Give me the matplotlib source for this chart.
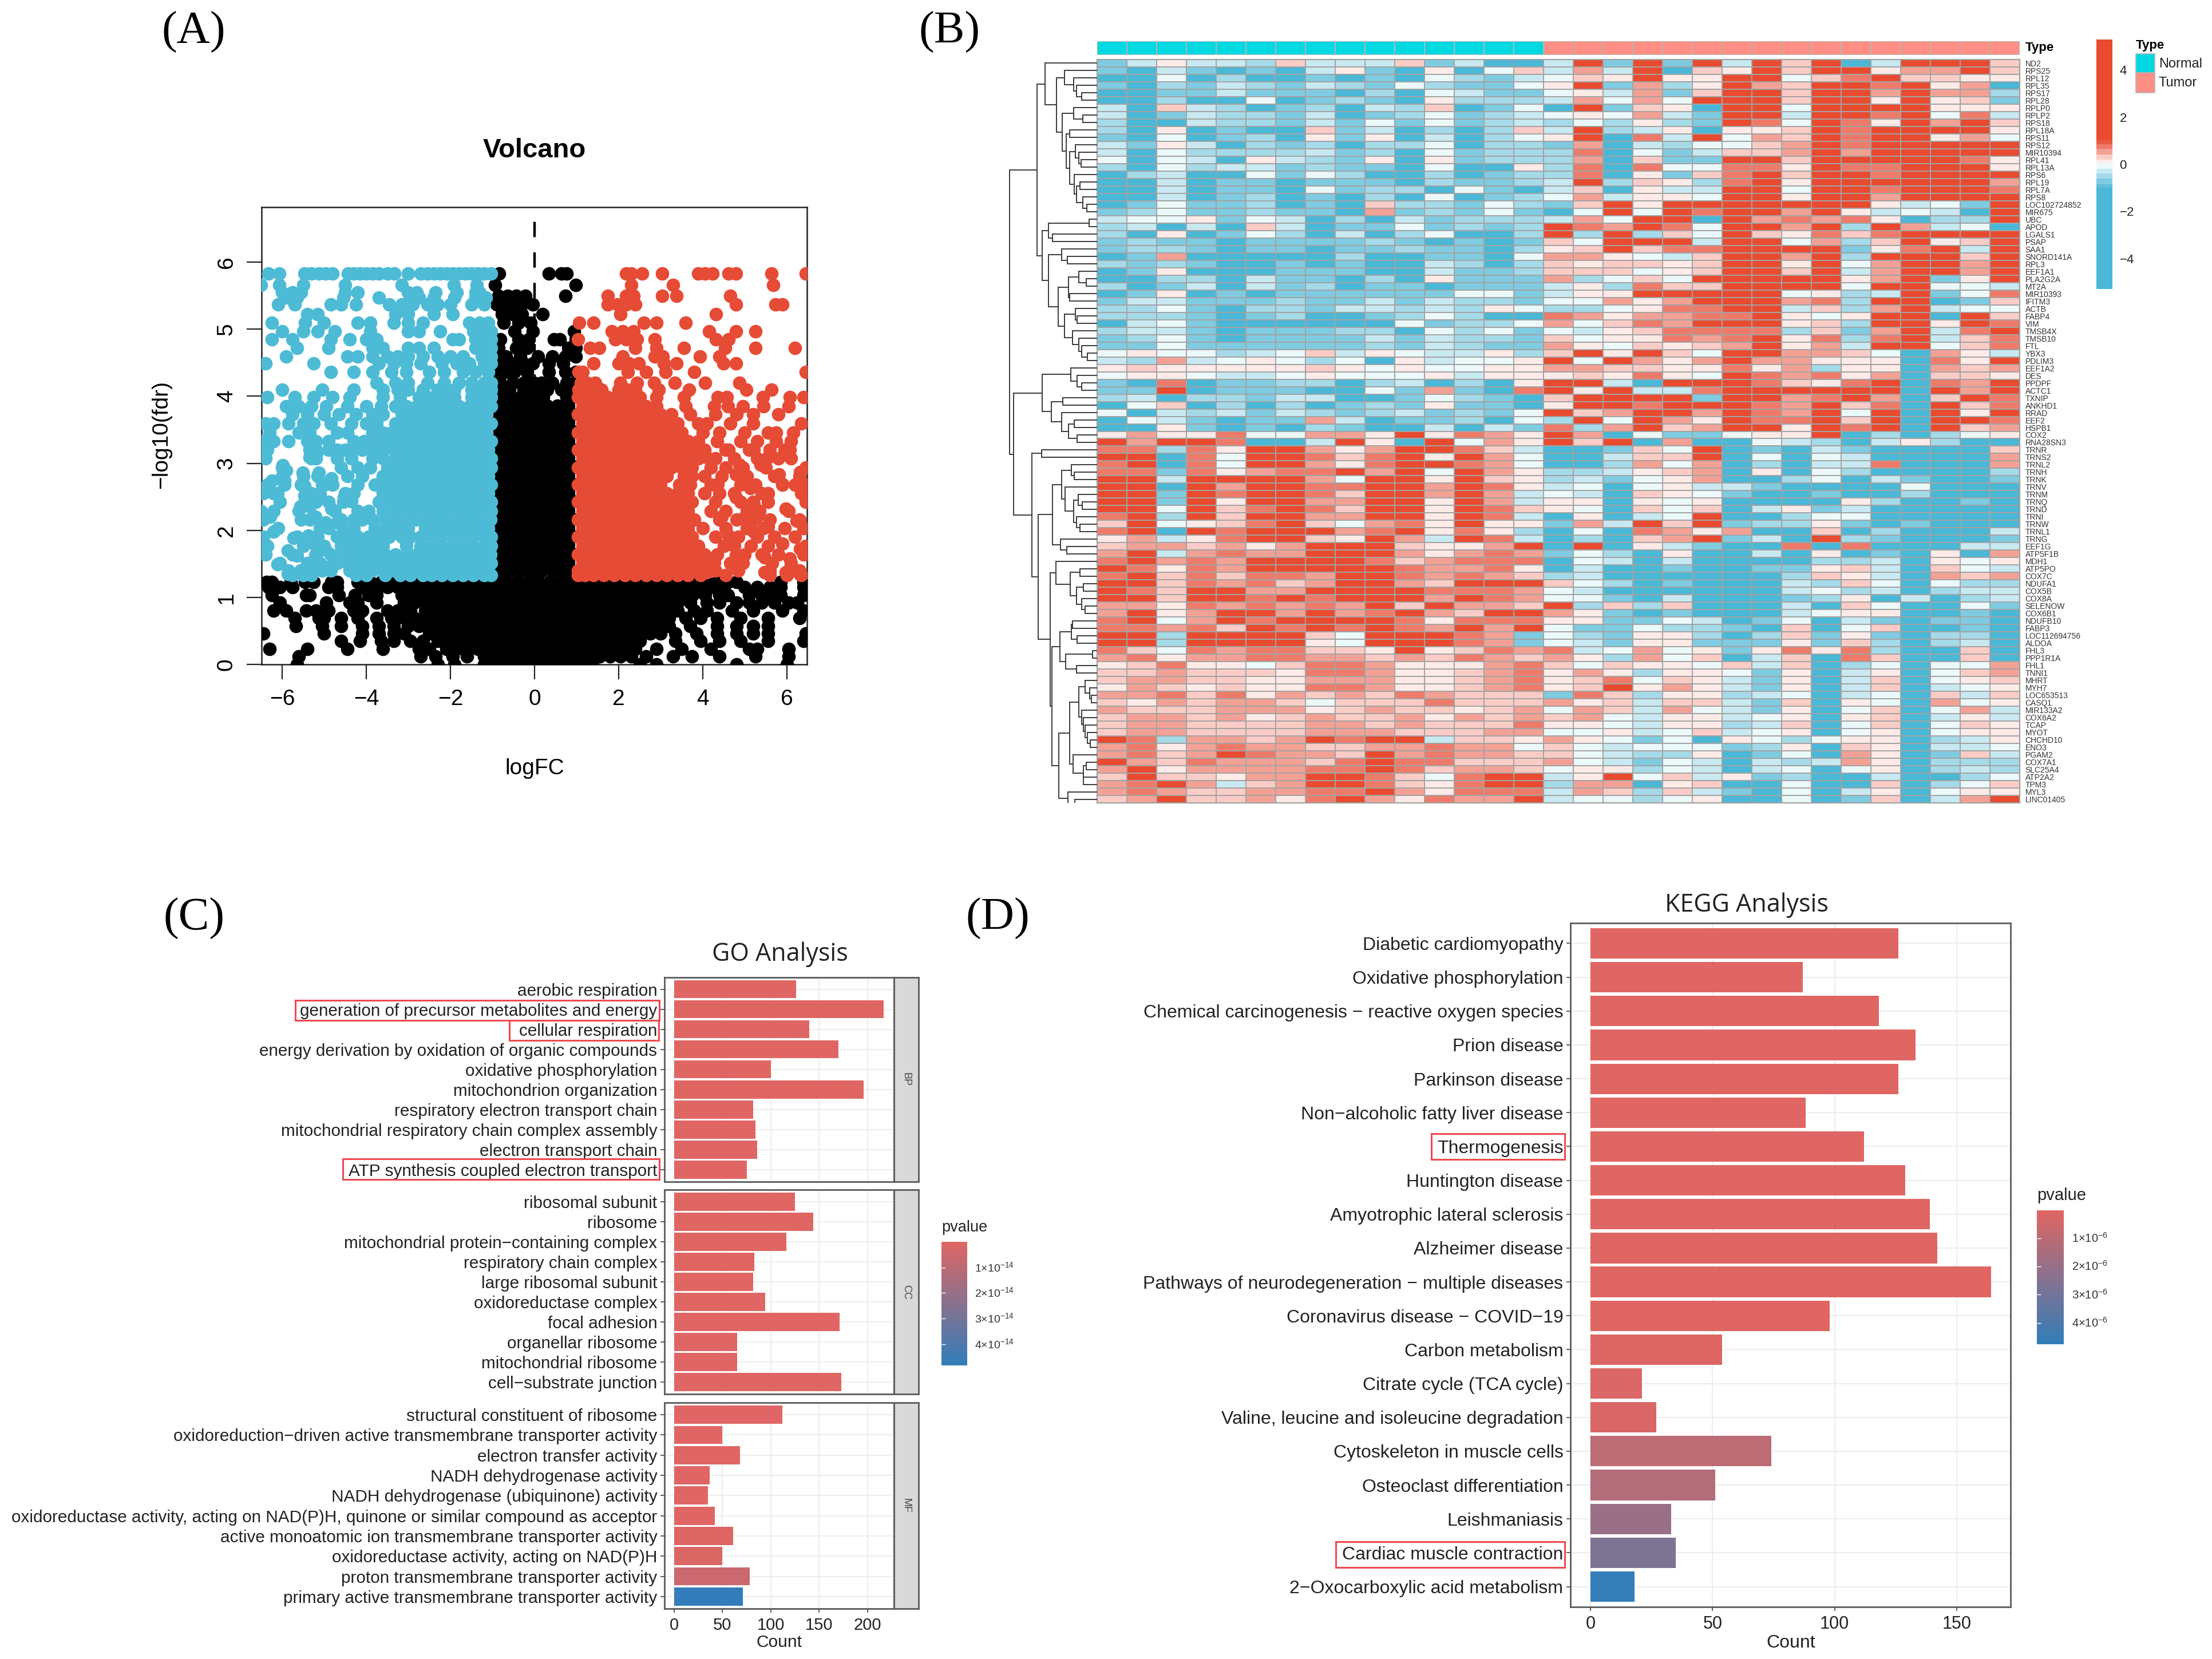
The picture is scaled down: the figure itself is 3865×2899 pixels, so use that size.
import matplotlib
matplotlib.use("Agg")
import matplotlib.pyplot as plt
from matplotlib.colors import ListedColormap, BoundaryNorm, LinearSegmentedColormap
from matplotlib.patches import Rectangle
import numpy as np

plt.rcParams['font.family'] = ['Liberation Sans', 'DejaVu Sans']
plt.rcParams['mathtext.default'] = 'regular'
W, H = 3866, 2899
fig = plt.figure(figsize=(W / 100, H / 100), dpi=100, facecolor='white')

def axpx(x0, y0, x1, y1, **kw):
    return fig.add_axes([x0 / W, 1 - y1 / H, (x1 - x0) / W, (y1 - y0) / H], **kw)

def txt(x, y, s, **kw):
    kw.setdefault('ha', 'center'); kw.setdefault('va', 'center')
    return fig.text(x / W, 1 - y / H, s, **kw)

# ---------- Panel A data: rows of points (y level, x positions)
blue_y = [5.83, 5.66, 5.55, 5.47, 5.37, 5.22, 5.1, 4.97, 4.85, 4.72, 4.59, 4.49, 4.36, 4.2, 4.1,
          3.99, 3.85, 3.73, 3.59, 3.46, 3.33, 3.2, 3.07, 2.94, 2.81, 2.68, 2.55, 2.42, 2.29, 2.16,
          2.03, 1.9, 1.77, 1.64, 1.51, 1.4, 1.33]
blue_x = [
 [-6.32,-6.07,-5.47,-5.3,-5.13,-4.96,-4.8,-4.44,-4.3,-4.15,-4,-3.85,-3.7,-3.5,-3.33,-3,-2.7,-2.55,-2.4,-2.25,-2.1,-1.95,-1.8,-1.65,-1.5,-1.35,-1.2,-1.03],
 [-6.5,-6.07,-5.5,-4.5,-3.16,-1.92,-1.37],
 [-6,-5.75,-5.55,-4.5,-4.2,-3,-2.8,-2.35,-1.85,-1.4,-1.3],
 [-5.9,-5.65,-4.55,-3.7,-2.95,-2.75,-2.4,-1.9,-1.4,-1.15],
 [-6.1,-5.7,-4.85,-4.6,-4.25,-3.45,-3.15,-2.9,-2.55,-2.3,-2,-1.5,-1.2],
 [-5.4,-5.15,-3.3,-2.4,-1.95,-3.0],
 [-6.25,-5.45,-5,-4.2,-3.9,-3.35,-3,-2.65,-1.55,-1.3,-1.1],
 [-6,-5.5,-5.15,-4.75,-3.9,-3,-2.75,-2.25,-1.45,-1.2,-1.03],
 [-6.25,-5.75,-4.85,-4.4,-4,-3.75,-1.95,-1.8,-1.4,-1.2,-1.03],
 [-5.65,-4.9,-3.85,-3.6,-3,-2.75,-2.4,-1.4,-1.2,-1.03],
 [-5.9,-4.45,-4.2,-3.85,-3.5,-3.25,-3,-2.65,-2.3,-2,-1.7,-1.25,-1.03],
 [-6.4,-5.25,-3.7,-3.35,-3.05,-2.7,-2.2,-1.85,-1.55,-1.2,-1.03],
 [-4.85,-4.3,-3.85,-3.4,-3.05,-2.15,-1.7,-1.4,-1.1,-2.5],
 [-3.75,-3.3,-3,-2.15,-1.8,-1.5,-1.2,-1.03,-2.55],
 [-6,-5.05,-4.3,-3.6,-3.25,-3,-2.65,-2.3,-1.9,-1.5,-1.03,-1.25,-2.1],
 [-6.35,-5.7,-5.25,-4.8,-4.4,-3.6,-3.2,-2.75,-2.35,-1.9,-1.5,-1.03,-1.25,-2.1,-2.55],
 [-5.9,-5.6,-5.3,-4.95,-4.45,-4,-3.65,-3.3,-3.05,-2.8,-2.55,-2.3,-2.05,-1.8,-1.55,-1.3,-1.03],
 [-5.75,-5.4,-5,-4.65,-4.25,-3.85,-3.6,-3.15,-2.9,-2.65,-2.4,-2.15,-1.9,-1.65,-1.4,-1.15],
 [-6.4,-6.2,-5.85,-5.5,-5.25,-4.85,-4.35,-4,-3.75,-3.3,-3.05,-2.8,-2.55,-2.3,-2.05,-1.8,-1.55,-1.3,-1.03],
 [-6.3,-5.6,-5.35,-4.7,-4.45,-3.85,-3.6,-3.4,-3.15,-2.9,-2.65,-2.4,-2.15,-1.9,-1.65,-1.4,-1.15],
 [-6.45,-6.2,-5.85,-5.4,-5.2,-4.9,-4.3,-4.05,-3.75,-3.5,-3.25,-3,-2.75,-2.5,-2.25,-2,-1.75,-1.5,-1.25,-1.03],
 [-6.35,-5.35,-5.2,-4.9,-4.7,-4.5,-4.3,-4.1,-3.85,-3.6,-3.35,-3.1,-2.85,-2.6,-2.35,-2.1,-1.85,-1.6,-1.35,-1.1],
 [-6.4,-5.3,-5.2,-4.7,-4.35,-3.85,-3.6,-3.3,-3.05,-2.8,-2.55,-2.3,-2.05,-1.8,-1.55,-1.3,-1.03],
 [-6,-4.6,-4.2,-3.9,-3.5,-3.25,-3,-2.75,-2.5,-2.25,-2,-1.75,-1.5,-1.25,-1.03],
 [-6,-5.5,-5.15,-4.45,-4.1,-3.6,-3.35,-3.1,-2.85,-2.6,-2.35,-2.1,-1.85,-1.6,-1.35,-1.1],
 [-6.35,-5.95,-5.55,-5.05,-4.8,-4.2,-3.8,-3.5,-3.25,-3,-2.75,-2.5,-2.25,-2,-1.75,-1.5,-1.25,-1.03],
 [-6.45,-6.2,-5.3,-5.1,-4.5,-4.3,-3.6,-3.35,-3.1,-2.85,-2.6,-2.35,-2.1,-1.85,-1.6,-1.35,-1.1],
 [-6.05,-5.45,-5.2,-4.9,-4.55,-3.7,-3.45,-3.2,-2.95,-2.7,-2.45,-2.2,-1.95,-1.7,-1.45,-1.2,-1.03],
 [-6.5,-6.2,-5.6,-4.75,-4.2,-3.95,-3.6,-3.3,-3.05,-2.8,-2.55,-2.3,-2.05,-1.8,-1.55,-1.3,-1.03],
 [-6.45,-5.55,-5.35,-4.6,-4.3,-4.1,-3.85,-3.55,-3.3,-3.05,-2.8,-2.55,-2.3,-2.05,-1.8,-1.55,-1.3,-1.05],
 [-6.1,-5.1,-4.9,-4.55,-4.3,-3.8,-3.5,-3.25,-3,-2.6,-2.35,-2.1,-1.85,-1.6,-1.35,-1.1],
 [-6.45,-5.65,-5.4,-5.15,-4.7,-4.5,-4.2,-3.95,-3.7,-3.45,-3.15,-2.95,-2.7,-2.45,-2.2,-1.95,-1.7,-1.45,-1.2,-1.03],
 [-6.35,-5.5,-5.2,-5,-4.6,-4.35,-4.1,-3.85,-3.6,-3.05,-2.7,-2.45,-2.2,-1.95,-1.7,-1.45,-1.2,-1.03],
 [-6.4,-5.75,-5.2,-4.85,-4.55,-4.3,-4.05,-3.8,-3.55,-3.3,-3.05,-2.8,-2.55,-2.3,-2.05,-1.8,-1.55,-1.3,-1.05],
 [-6.05,-5.4,-5.1,-4.7,-4.45,-4.2,-3.95,-3.7,-3.45,-3.2,-2.95,-2.7,-2.45,-2.2,-1.95,-1.7,-1.45,-1.2,-1.03],
 [-5.85,-5.55,-5.05,-4.85,-4.4,-4.1,-3.85,-3.6,-3.35,-3.1,-2.85,-2.6,-2.35,-2.1,-1.85,-1.6,-1.35,-1.1],
 [-5.75,-5.5,-5.3,-4.25,-4,-3.55,-3.2,-2.95,-2.65,-2.45,-2.2,-1.95,-1.7,-1.45,-1.2,-1.03],
]
blue_extra_x = [-6.37,-5.35,-5.35,-5.17,-5.98,-5.9,-5.51,-5.13,-4.83,-4.96,-6.24,-5.94,-5.47,-6.11,-5.47,-4.53,-4.36,-5.21,-5.56,-5.34,-4.83,-6.28,-5.21,-4.96,-4.7,-6.2,-5.73,-5.38,-5.86,-5.64,-5.21,-4.96,-6.11,-5.56,-5.17,-5.86,-4.87]
blue_extra_y = [3.2,3.23,3.09,3.17,2.97,2.89,2.86,2.86,2.77,2.69,2.74,2.74,2.66,2.55,2.52,2.49,2.43,2.49,2.36,2.36,2.32,2.2,2.2,2.12,2.12,1.98,1.89,1.92,1.7,1.62,1.63,1.71,1.49,1.4,1.43,1.35,1.46]
red_y = [5.83, 5.66, 5.5, 5.37, 5.22, 5.1, 4.97, 4.85, 4.72, 4.59, 4.49, 4.36, 4.2, 4.1,
         3.99, 3.85, 3.73, 3.59, 3.46, 3.33, 3.2, 3.07, 2.94, 2.81, 2.68, 2.55, 2.42, 2.29, 2.16,
         2.03, 1.9, 1.77, 1.64, 1.51, 1.4, 1.33]
red_x = [
 [2.18,2.3,2.56,3.03,3.89,4.06,4.23,4.62,4.79,5.64,6.45],
 [2.3,3.3,5.68],
 [1.75,2.18,2.35,3.03,3.38,4.66],
 [1.75,1.97,2.18,2.4,4.79,5.73,5.9],
 [2.05,4.32],
 [1.07,1.41,2.6,2.9,3.6],
 [1.84,2.1,2.35,4.15,4.79,5.26],
 [1.03,1.92,2.18,2.44,2.86,4.32,4.62],
 [1.32,1.54,2.4,2.9,3.55,4.53,5.26,6.2],
 [2.1,2.86,3.93,4.4,3.05],
 [1.41,2,2.48,3.08,3.38,4.49,4.79,2.25],
 [1.15,2.22,2.65,3.12,3.8,6.45,1.05],
 [1.1,1.45,2.05,2.44,2.85,3.33,4.06,4.87,1.25],
 [1.05,1.3,1.6,2,2.4,2.95,3.68,5.04,5.64,2.2],
 [1.03,1.25,1.5,1.75,2,2.25,2.5,2.9,3.55,4.36,4.57,5.43,6.07,6.4],
 [1.15,1.4,1.65,1.9,2.15,2.4,2.65,2.9,3.6,4.27,4.6,4.95,5.45,6.05],
 [1.03,1.25,1.5,1.75,2,2.25,2.5,2.75,3,3.25,3.7,4.3,4.8,5.2,5.8],
 [1.15,1.4,1.65,1.9,2.15,2.4,2.65,2.9,3.15,3.4,3.9,4.1,4.65,5.2,6.35],
 [1.03,1.25,1.5,1.75,2,2.25,2.5,2.75,3,3.25,3.5,4,4.4,5,5.55,5.75,6.15],
 [1.15,1.4,1.65,1.9,2.15,2.4,2.65,2.9,3.15,3.4,3.65,3.9,4.35,4.9,5.3,5.75,6.1],
 [1.03,1.25,1.5,1.75,2,2.25,2.5,2.75,3,3.25,3.5,3.75,4.05,4.55,5.1,5.6,5.95],
 [1.15,1.4,1.65,1.9,2.15,2.4,2.65,2.9,3.15,3.4,3.65,3.9,4.3,4.75,5.3,5.8,6.1],
 [1.03,1.25,1.5,1.75,2,2.25,2.5,2.75,3,3.25,3.5,3.75,4.2,4.55,4.95,5.5,6.45],
 [1.15,1.4,1.65,1.9,2.15,2.4,2.65,2.9,3.15,3.55,3.75,4.05,4.45,5.05,5.7,6.3],
 [1.03,1.25,1.5,1.75,2,2.25,2.5,2.75,3,3.45,3.7,4.2,4.9,5.25,5.9,6.2,6.45],
 [1.15,1.4,1.65,1.9,2.15,2.4,2.65,2.9,3.15,3.4,3.65,4.05,4.4,4.75,5.4,6.35],
 [1.03,1.25,1.5,1.75,2,2.25,2.5,2.75,3,3.25,3.5,3.75,4.3,4.9,5.2,5.55,6.45],
 [1.15,1.4,1.65,1.9,2.15,2.4,2.65,2.9,3.15,3.4,3.65,4.2,4.55,5.05,5.35,6.05],
 [1.03,1.25,1.5,1.75,2,2.25,2.5,2.75,3,3.25,3.5,3.8,4.4,4.8,5.2,5.6,6.3],
 [1.15,1.4,1.65,1.9,2.15,2.4,2.65,2.9,3.15,3.4,3.65,4,4.55,5.05,5.45,5.95,6.4],
 [1.03,1.25,1.5,1.75,2,2.25,2.5,2.75,3,3.25,3.5,3.75,4.3,4.85,5.3,5.7,6.2],
 [1.15,1.4,1.65,1.9,2.15,2.4,2.65,2.9,3.15,3.4,3.65,3.9,4.5,4.75,5.15,5.55,6.45],
 [1.03,1.25,1.5,1.75,2,2.25,2.5,2.75,3,3.25,3.5,3.75,4.05,4.35,5,5.4,5.8,6.4],
 [1.15,1.4,1.65,1.9,2.15,2.4,2.65,2.9,3.15,3.4,3.65,3.9,4.2,4.65,4.95,5.65,6.1],
 [1.03,1.25,1.5,1.75,2,2.25,2.5,2.75,3,3.25,3.5,3.75,4,4.3,4.85,5.6,6.05,6.3],
 [1.03,1.2,1.4,1.65,1.9,2.15,2.4,2.65,2.9,3.15,3.4,3.65,3.95,4.55,5.6,6,6.35],
]
red_extra_x = [4.1,4.62,5.21,5.56,6.07,4.87,5.38,5.81,6.32,4.79,4.36,5.13,5.9,6.32,5.56,4.79,5.21,5.98,4.45,4.96,5.3,6.24,5.56,5.21,4.62,5.9,6.32,4.79,5.47,4.27,6.07,4.79,5.47,5.98,6.32,4.1]
red_extra_y = [3.09,3.2,3.2,3.09,3.2,2.98,2.98,2.83,2.87,2.83,2.69,2.63,2.69,2.72,2.55,2.49,2.38,2.32,2.2,2.18,2.2,2.14,2.06,1.98,1.92,1.8,1.72,1.63,1.6,1.52,1.58,1.43,1.37,1.37,1.34,1.37]
black_y = [5.83, 5.66, 5.5, 5.37, 5.22, 5.1, 4.97, 4.85, 4.72, 4.59, 4.49, 4.36, 4.2, 4.1, 3.99,
           3.86, 3.73, 3.6, 3.47, 3.34, 3.21, 3.08, 2.95, 2.82, 2.69, 2.56, 2.43, 2.3, 2.17, 2.04,
           1.91, 1.78, 1.65, 1.52, 1.39, 1.23, 1.15, 1.03, 0.92, 0.8, 0.69, 0.57, 0.46, 0.35, 0.23, 0.12, 0.0]
black_x = [
 [-0.84,0.34,0.64,0.77],
 [-0.94,0.98],
 [-0.85,-0.64,-0.43,-0.21,0.74],
 [-0.9,-0.68,-0.47,-0.3,-0.04],
 [-0.77,-0.51,-0.3,0.19],
 [-0.73,-0.38,-0.09],
 [-0.47,-0.04,0.94],
 [-0.81,-0.38,-0.13,0.47,0.6,0.98],
 [-0.85,-0.43,-0.17,0.81,0.98],
 [-0.94,-0.68,-0.34,0.09,0.43,0.73,0.98],
 [-0.94,-0.72,-0.5,-0.25,-0.04,0.34,0.68],
 [-0.94,-0.68,-0.47,-0.17,0.34,0.73,0.98],
 [-0.81,-0.51,-0.26,-0.01,0.17,0.43,0.77,0.95],
 [-0.85,-0.6,-0.26,-0.01,0.3,0.64,0.85],
 [-0.9,-0.6,-0.34,-0.09,0.2,0.77,0.9],
 [-0.95,-0.7,-0.45,-0.2,0.05,0.3,0.55,0.8],
 [-0.83,-0.58,-0.33,-0.08,0.17,0.42,0.67,0.92],
 [-0.95,-0.7,-0.45,-0.2,0.05,0.3,0.55,0.8],
 [-0.83,-0.58,-0.33,-0.08,0.17,0.42,0.67,0.92],
 [-0.95,-0.7,-0.45,-0.2,0.05,0.3,0.55,0.8],
 [-0.83,-0.58,-0.33,-0.08,0.17,0.42,0.67,0.92],
 [-0.95,-0.7,-0.45,-0.2,0.05,0.3,0.55,0.8],
 [-0.83,-0.58,-0.33,-0.08,0.17,0.42,0.67,0.92],
 [-0.95,-0.7,-0.45,-0.2,0.05,0.3,0.55,0.8],
 [-0.83,-0.58,-0.33,-0.08,0.17,0.42,0.67,0.92],
 [-0.95,-0.7,-0.45,-0.2,0.05,0.3,0.55,0.8],
 [-0.83,-0.58,-0.33,-0.08,0.17,0.42,0.67,0.92],
 [-0.95,-0.7,-0.45,-0.2,0.05,0.3,0.55,0.8],
 [-0.83,-0.58,-0.33,-0.08,0.17,0.42,0.67,0.92],
 [-0.95,-0.7,-0.45,-0.2,0.05,0.3,0.55,0.8],
 [-0.83,-0.58,-0.33,-0.08,0.17,0.42,0.67,0.92],
 [-0.95,-0.7,-0.45,-0.2,0.05,0.3,0.55,0.8],
 [-0.83,-0.58,-0.33,-0.08,0.17,0.42,0.67,0.92],
 [-0.95,-0.7,-0.45,-0.2,0.05,0.3,0.55,0.8],
 [-0.83,-0.58,-0.33,-0.08,0.17,0.42,0.67,0.92],
 [-6.37,-6.24,-5.8,-5.45,-5.25,-4.83,-4.7,-4.2,-3.9,-3.65,-3.4,-3.15,-2.9,-2.65,-2.4,-2.15,-1.9,-1.65,-1.4,-1.15,-0.9,-0.65,-0.4,-0.15,0.1,0.35,0.6,0.85,1.1,1.35,1.6,1.85,2.1,2.35,2.6,2.85,3.1,3.35,3.6,3.85,4.1,4.35,4.6,4.8,5.85,6.4],
 [-6.32,-6.05,-5.75,-4.9,-4.7,-4.1,-3.85,-3.7,-3.5,-3.25,-3,-2.75,-2.5,-2.25,-2,-1.75,-1.5,-1.25,-1,-0.75,-0.5,-0.25,0,0.25,0.5,0.75,1,1.25,1.5,1.75,2,2.25,2.5,2.75,3,3.25,3.5,3.75,4,4.25,4.5,5,5.3,5.6,5.85,6.4],
 [-6.24,-5.43,-5.35,-4.65,-4.27,-3.95,-3.75,-3.16,-2.9,-2.65,-2.4,-2.15,-1.9,-1.65,-1.4,-1.15,-0.9,-0.65,-0.4,-0.15,0.1,0.35,0.6,0.85,1.1,1.35,1.6,1.85,2.1,2.35,2.6,2.85,3.1,3.35,3.6,3.76,4.06,4.4,4.6,5.1,5.4,5.65,5.85,6.4],
 [-6.05,-4.95,-4.4,-4.2,-3.75,-3.1,-2.85,-2.6,-2.35,-2.1,-1.85,-1.6,-1.35,-1.1,-0.85,-0.6,-0.35,-0.1,0.15,0.4,0.65,0.9,1.15,1.4,1.65,1.9,2.15,2.4,2.65,2.9,3.15,3.4,3.7,4.1,4.4,4.8,5.1,5.4,5.7,6.05,6.25],
 [-6.2,-5.9,-5.43,-5.2,-4.9,-4.3,-4.1,-3.5,-3.25,-2.95,-2.6,-2.35,-2.1,-1.85,-1.6,-1.35,-1.1,-0.85,-0.6,-0.35,-0.1,0.15,0.4,0.65,0.9,1.15,1.4,1.65,1.9,2.15,2.4,2.65,2.9,3.15,3.4,3.8,4.1,4.7,5.2,5.9,6.4],
 [-5.7,-5.13,-5,-4.6,-4.2,-3.75,-3.4,-3.1,-2.85,-2.6,-2.3,-2.05,-1.8,-1.55,-1.3,-1.05,-0.8,-0.55,-0.3,-0.05,0.2,0.45,0.7,0.95,1.2,1.45,1.7,1.95,2.2,2.45,2.7,2.95,3.2,3.6,3.95,4.35,4.9,5.55,6.3],
 [-5.68,-5.05,-4.6,-4.1,-3.7,-3.35,-3,-2.75,-2.5,-2.25,-2,-1.75,-1.5,-1.25,-1,-0.75,-0.5,-0.25,0,0.25,0.5,0.75,1,1.25,1.5,1.75,2,2.25,2.5,2.75,3,3.2,3.7,4.35,4.8,5.2,5.55],
 [-6.45,-5,-4.1,-3.7,-3.35,-3.1,-2.5,-2.25,-2,-1.75,-1.5,-1.25,-1,-0.75,-0.5,-0.25,0,0.25,0.5,0.75,1,1.25,1.5,1.75,2,2.25,2.5,2.75,3,3.35,3.85,4.35,4.8,5.2,5.55,6.45],
 [-4.6,-4.15,-3.65,-3.35,-2.95,-2.65,-2.3,-2.05,-1.8,-1.55,-1.3,-1.05,-0.8,-0.55,-0.3,-0.05,0.2,0.45,0.7,0.95,1.2,1.45,1.7,1.95,2.2,2.5,3.35,3.95,4.4,4.9,5.55,6.4],
 [-6.3,-5.4,-4.45,-3.6,-2.75,-2.5,-2.1,-1.85,-1.6,-1.35,-1.1,-0.85,-0.6,-0.35,-0.1,0.15,0.4,0.65,0.9,1.15,1.4,1.65,1.9,2.15,2.4,2.9,3.5,4.2,5.1,5.3,6.05],
 [-5.6,-2.7,-2.35,-1.95,-1.6,-1.2,-0.95,-0.7,-0.45,-0.2,0.05,0.3,0.55,0.8,1.05,1.3,1.55,1.8,2.05,2.3,2.65,3.3,3.75,4.4,5.25,6.05],
 [-5.65,-2.3,-1.9,-1.2,-0.9,-0.65,-0.4,-0.15,0.1,0.35,0.6,0.85,1.1,1.37,2.5,2.9,4.8,6],
]

# ---------- Panel B data
gene_labels = ['ND2','RPS25','RPL12','RPL35','RPS17','RPL28','RPLP0','RPLP2','RPS18','RPL18A','RPS11','RPS12','MIR10394','RPL41','RPL13A','RPS6','RPL19','RPL7A','RPS8','LOC102724852','MIR675','UBC','APOD','LGALS1','PSAP','SAA1','SNORD141A','RPL3','EEF1A1','PLA2G2A','MT2A','MIR10393','IFITM3','ACTB','FABP4','VIM','TMSB4X','TMSB10','FTL','YBX3','PDLIM3','EEF1A2','DES','PPDPF','ACTC1','TXNIP','ANKHD1','RRAD','EEF2','HSPB1','COX2','RNA28SN3','TRNR','TRNS2','TRNL2','TRNH','TRNK','TRNV','TRNM','TRNQ','TRND','TRNI','TRNW','TRNL1','TRNG','EEF1G','ATP5F1B','MDH1','ATP5PO','COX7C','NDUFA1','COX5B','COX8A','SELENOW','COX6B1','NDUFB10','FABP3','LOC112694756','ALDOA','FHL3','PPP1R1A','FHL1','TNNI1','MHRT','MYH7','LOC653513','CASQ1','MIR133A2','COX6A2','TCAP','MYOT','CHCHD10','ENO3','PGAM2','COX7A1','SLC25A4','ATP2A2','TPM3','MYL3','LINC01405']
normal_rows = """135332633361300 103101035105046 004020010104213 102132132142114 001131110204311 002004012105222 306320120326014 301322130124123 200322131414123 205010061302026 104012051503024 315302120224022 304222231204122 404305321505122 204233121104005 023004142002012 003011011102112 003011041220410 003012010204012 014112010622142 124112110712141 344514302031222 230306301141212 205014203024002 121101111210101 122101101121102 017000002001104 212100101003202 015000111003112 002203110205111 201303120110111 015010111111441 133111211313221 224102213323254 222101200124200 034100000041224 233101112204241 124101111313221 114111111213211 454423463543352 327345424053445 565555565454455 455433454445355 108011220230205 119011100417108 230221330014210 046020201215110 403231321231214 043101173011204 005101021003031 575584477595875 979980039509475 882859975799863 990849986895974 890849975899874 881857889794975 993999974995965 990979988997985 991989986997973 991959977995973 994968986995986 892969977995983 694568964785955 890989997895852 573589965973983 677675799965579 793787799975787 897879999867888 985879999987785 896868879987876 996878679976999 986997799998887 996998989997987 775878787969776 795799797897699 894798999985888 887869898987979 992999964999871 992999954999871 864878866595687 785778877676876 568554688755578 667666588755678 677665577755678 576565588755678 778685767687666 657677646668666 766677756766567 677675676675767 677666677676668 677666677766677 982776798993665 785787766778774 786798776978776 976877768988666 795777788986776 696657799864899 789736799865899 787667788975888 679667589758779""".split()
tumor_rows = """3919193969039996 3739065969957796 4659559946896655 5917259769989570 4537169969979772 3747499969959561 0916509949999555 4547319939989483 2425219849859796 3923505569899995 5908394769899574 1703244679899999 2804136679799999 2706119969999985 2808448859889995 2805168969989999 3926528959999997 3605339949989998 4735549959979999 1695999999953419 0494989979534309 3749909787850229 9879849979297340 9292649658689999 6499939947269569 5696889999158939 7754369979299969 6566569959479979 6664569969379979 7246499999579159 3528669999499443 3559999945239148 4475799978299016 2245889936279344 8757788954599096 7468799956299598 4356888826179389 6455878958289368 7546567957399468 6959649977640753 9497579775550859 7766558572550767 5658549878570665 9930999865890879 9593389999990979 6999919978970698 5998999879680968 9679979879490959 2949759889690998 8279679959890967 9704114559020245 9690700432035200 0016490103100006 0036690404300007 0027470203380007 2235670504200002 2314570024031001 3404533100004000 4306541001002000 5505450000520010 5406460351300000 0503490024400000 1739691225101000 0408757006020003 0206791309210001 0905310080800033 1420500305010507 0430300002230545 0300100115630643 2300000026530767 6420100032640422 4300000034230233 4410300012503023 9262600030640041 7510100034550010 5511430140310110 4114221060460010 4215520261510220 4315511151620230 8347451585820060 7527460360860060 6465546360240447 5752554150350467 5684653150360456 5695753150360345 1862552340340636 7563663160540745 4763743150460473 6743553450560353 5543552360460465 4453463450450455 7541405424550235 6434441250650334 6432250140750163 7431430323750222 4552430340450232 3594635120030024 2770560040060246 3762631040350455 3442450040160379""".split()

band_edges = [-5.3,-1.0,-0.84,-0.6,-0.4,-0.2,0.04,0.2,0.41,0.65,0.86,1.05,5.3]
band_colors = ['#4AB8D6','#5FBFDB','#7FCBE1','#A5DAE9','#C8E9F1','#ECF9FB','#FEEBE8','#FBCCC6','#F4A195','#EE7B6A','#E85A42','#E84B30']
code_values = [-2.0,-0.72,-0.5,-0.3,-0.08,0.12,0.3,0.55,0.75,2.0]
cbar_ticks_b = [4,2,0,-2,-4]

# Dendrogram: nested [height, upper, lower]; 0 is a leaf
L = 0
den_a1 = [91, L, [71, [57, L, [41, L, [36, L, [27, L, L]]]],
                  [61, [41, L, [25, L, L]],
                       [54, [48, L, L], [48, [38, L, [32, L, [28, L, L]]], [40, L, [36, [30, L, L], [25, L, [18, L, L]]]]]]]]]
den_a2 = [96, [85, [14, L, L], [78, L, L]],
              [85, [62, L, [52, L, L]],
                   [68, [50, [32, L, [19, L, L]], [48, L, L]],
                        [57, [38, L, [35, L, L]], [43, L, [32, L, [27, L, [17, L, L]]]]]]]]
den_c = [96, [46, L, [35, L, [27, L, L]]],
             [80, [60, L, L], [62, L, [50, [40, L, L], [35, L, L]]]]]
den_e = [78, [62, [45, L, [40, L, L]], [56, L, [41, [33, L, [26, L, L]], [36, L, [30, L, L]]]]], [64, L, [53, L, L]]]
den_f1 = [72, L, [47, [30, L, L], [36, [24, L, L], [27, L, [21, L, L]]]]]
den_f2 = [65, [45, [43, L, L], [35, L, L]], [55, [8, L, L], [36, L, L]]]
den_g = [32, [21, L, [13, L, [10, L, L]]], [27, L, [24, L, [21, L, [17, L, [12, L, L]]]]]]
den_h = [42, L, [24, [19, L, L], [24, L, L]]]
den_k = [51, L, [39, L, [30, L, L]]]
den_f = [82, den_f1, [79, den_f2, [67, [48, den_g, den_h], den_k]]]
den_d = [114, [97, L, L], [103, den_e, den_f]]
dendrogram_tree = [153, [105, den_a1, den_a2], [146, den_c, den_d]]

# ---------- Panel C data
go_terms_bp = ['aerobic respiration','generation of precursor metabolites and energy','cellular respiration','energy derivation by oxidation of organic compounds','oxidative phosphorylation','mitochondrion organization','respiratory electron transport chain','mitochondrial respiratory chain complex assembly','electron transport chain','ATP synthesis coupled electron transport']
go_counts_bp = [126,217,140,170,100,196,82,84,86,75]
go_p_bp = [0.01,0.02,0.02,0.03,0.03,0.03,0.03,0.04,0.04,0.04]
go_terms_cc = ['ribosomal subunit','ribosome','mitochondrial protein\u2212containing complex','respiratory chain complex','large ribosomal subunit','oxidoreductase complex','focal adhesion','organellar ribosome','mitochondrial ribosome','cell\u2212substrate junction']
go_counts_cc = [125,144,116,83,82,94,171,65,65,173]
go_p_cc = [0.03,0.03,0.03,0.03,0.03,0.03,0.04,0.04,0.04,0.04]
go_terms_mf = ['structural constituent of ribosome','oxidoreduction\u2212driven active transmembrane transporter activity','electron transfer activity','NADH dehydrogenase activity','NADH dehydrogenase (ubiquinone) activity','oxidoreductase activity, acting on NAD(P)H, quinone or similar compound as acceptor','active monoatomic ion transmembrane transporter activity','oxidoreductase activity, acting on NAD(P)H','proton transmembrane transporter activity','primary active transmembrane transporter activity']
go_counts_mf = [112,50,68,37,35,42,61,50,78,71]
go_p_mf = [0.04,0.04,0.04,0.05,0.05,0.05,0.08,0.15,0.6,4.8]
go_strips = ['BP','CC','MF']
# ---------- Panel D data
kegg_terms = ['Diabetic cardiomyopathy','Oxidative phosphorylation','Chemical carcinogenesis \u2212 reactive oxygen species','Prion disease','Parkinson disease','Non\u2212alcoholic fatty liver disease','Thermogenesis','Huntington disease','Amyotrophic lateral sclerosis','Alzheimer disease','Pathways of neurodegeneration \u2212 multiple diseases','Coronavirus disease \u2212 COVID\u221219','Carbon metabolism','Citrate cycle (TCA cycle)','Valine, leucine and isoleucine degradation','Cytoskeleton in muscle cells','Osteoclast differentiation','Leishmaniasis','Cardiac muscle contraction','2\u2212Oxocarboxylic acid metabolism']
kegg_counts = [126,87,118,133,126,88,112,129,139,142,164,98,54,21,27,74,51,33,35,18]
kegg_p = [0.01,0.01,0.01,0.01,0.01,0.01,0.01,0.01,0.01,0.02,0.02,0.03,0.08,0.15,0.2,0.95,1.25,1.9,2.7,4.7]

LAB = dict(family='Liberation Serif', fontsize=58)
txt(338, 56, '(A)', **LAB); txt(1659, 56, '(B)', **LAB)
txt(339, 1605, '(C)', **LAB); txt(1743, 1605, '(D)', **LAB)

# ---------- Panel A
ax = axpx(457, 362, 1410, 1161)
ax.set_xlim(-6.49, 6.48); ax.set_ylim(0, 6.82)
MS = 290
for ys, xs, ex, ey, c in ((black_y, black_x, [], [], 'black'),
                          (blue_y, blue_x, blue_extra_x, blue_extra_y, '#4DBBD5'),
                          (red_y, red_x, red_extra_x, red_extra_y, '#E64B35')):
    px = [v for row in xs for v in row] + ex
    py = [y for y, row in zip(ys, xs) for _ in row] + ey
    ax.scatter(px, py, s=MS, c=c, linewidths=0, zorder=3)
ax.axvline(0, color='black', lw=3.2, dashes=(6, 6), zorder=2)
ax.set_xticks(range(-6, 7, 2)); ax.set_yticks(range(0, 7))
ax.set_xticklabels(['\u22126','\u22124','\u22122','0','2','4','6'], fontsize=28)
ax.set_yticklabels(range(0, 7), fontsize=28, rotation=90, va='center')
ax.tick_params(length=19, width=1.6, color='#222222', pad=12)
for s in ax.spines.values():
    s.set_linewidth(1.8); s.set_color('#222222')
txt(934, 263, 'Volcano', fontsize=34, fontweight='bold')
txt(934, 1343, 'logFC', fontsize=28)
txt(282, 760, '\u2212log10(fdr)', fontsize=28, rotation=90)

# ---------- Panel B
cmap_b = ListedColormap(band_colors)
norm_b = BoundaryNorm(band_edges, cmap_b.N)
matrix = np.array([[code_values[int(c)] for c in n + t] for n, t in zip(normal_rows, tumor_rows)])
nrows, ncols = matrix.shape
ax = axpx(1917, 104, 3529, 1403)
ax.pcolormesh(np.arange(ncols + 1), np.arange(nrows + 1), matrix, cmap=cmap_b, norm=norm_b,
              edgecolors='#A3A3A3', linewidth=1.4)
ax.set_xlim(0, ncols); ax.set_ylim(nrows, 0)
ax.set_xticks([]); ax.yaxis.tick_right()
ax.set_yticks(np.arange(nrows) + 0.5); ax.set_yticklabels(gene_labels, fontsize=10, color='#333333')
ax.tick_params(length=0, pad=7)
for s in ax.spines.values():
    s.set_color('#A3A3A3'); s.set_linewidth(1.6)

normal_n = len(normal_rows[0]); tumor_n = len(tumor_rows[0])
ax = axpx(1917, 72, 3529, 96)
ax.pcolormesh(np.arange(ncols + 1), [0, 1], np.array([[0] * normal_n + [1] * tumor_n]),
              cmap=ListedColormap(['#00D9E1', '#FF8E85']), edgecolors='#B5B5B5', linewidth=1.4)
ax.set_xlim(0, ncols); ax.axis('off')
txt(3539, 84, 'Type', fontsize=16, fontweight='bold', ha='left')

ax = axpx(1757, 104, 1917, 1403)
ax.set_xlim(160, 0); ax.set_ylim(nrows, 0); ax.axis('off')
leaf_counter = [0]
def draw_tree(node):
    if node == 0:
        y = leaf_counter[0] + 0.5
        leaf_counter[0] += 1
        return y, 0
    h, a, b = node
    ya, ha = draw_tree(a)
    yb, hb = draw_tree(b)
    ax.plot([ha, h, h, hb], [ya, ya, yb, yb], color='#3A3A3A', lw=1.4, solid_joinstyle='miter')
    return (ya + yb) / 2, h
draw_tree(dendrogram_tree)

ax = axpx(3663, 69, 3691, 505)
for lo, hi, c in zip(band_edges[:-1], band_edges[1:], band_colors):
    ax.axhspan(lo, hi, color=c, lw=0)
ax.set_ylim(band_edges[0], band_edges[-1]); ax.set_xticks([]); ax.yaxis.tick_right()
ax.set_yticks(cbar_ticks_b); ax.set_yticklabels(['4','2','0','\u22122','\u22124'], fontsize=16, color='#222222')
ax.tick_params(length=0, pad=9)
for s in ax.spines.values():
    s.set_visible(False)

txt(3732, 79, 'Type', fontsize=16, fontweight='bold', ha='left')
fig.add_artist(Rectangle((3732 / W, 1 - 127 / H), 33 / W, 33 / H, transform=fig.transFigure, fc='#00D9E1', ec='#B5B5B5', lw=1.2))
fig.add_artist(Rectangle((3732 / W, 1 - 162 / H), 33 / W, 35 / H, transform=fig.transFigure, fc='#FF8E85', ec='#B5B5B5', lw=1.2))
txt(3772, 112, 'Normal', fontsize=17, ha='left', color='#222222')
txt(3772, 145, 'Tumor', fontsize=17, ha='left', color='#222222')

# ---------- Panels C, D
cmap_p = LinearSegmentedColormap.from_list('p', ['#E06663', '#327EBA'])
def style_gg(ax, fs, xticks):
    ax.set_axisbelow(True)
    ax.grid(axis='both', color='#EDEDED', lw=1.4)
    ax.set_xticks(xticks)
    ax.tick_params(axis='y', length=5, width=1.2, color='#444444', labelsize=fs[0], pad=4, labelcolor='#222222')
    ax.tick_params(axis='x', length=5, width=1.2, color='#444444', labelsize=fs[1], pad=6, labelcolor='#222222')
    for s in ax.spines.values():
        s.set_color('#5A5A5A'); s.set_linewidth(2)

def bars(ax, terms, counts, pvals, pmax, xlim):
    ys = np.arange(len(terms))
    ax.barh(ys, counts, height=0.9, color=cmap_p(np.array(pvals) / pmax))
    ax.set_yticks(ys); ax.set_yticklabels(terms)
    ax.set_ylim(len(terms) - 0.4, -0.6); ax.set_xlim(*xlim)

def pbar(x0, y0, x1, y1, pmax, ticks, labels, fs, title_y, title_fs, lab_x):
    cax = axpx(x0, y0, x1, y1)
    grad = np.linspace(0, 1, 256).reshape(-1, 1)
    cax.imshow(grad, aspect='auto', cmap=cmap_p, extent=[0, 1, pmax, 0])
    cax.set_xticks([]); cax.set_yticks(ticks); cax.set_yticklabels([])
    cax.tick_params(axis='y', direction='in', length=5, color='white', width=1)
    for s in cax.spines.values():
        s.set_visible(False)
    for t, l in zip(ticks, labels):
        py = y0 + (y1 - y0) * t / pmax
        txt(lab_x, py, l, fontsize=fs, ha='left', color='#333333')
    txt(x0, title_y, 'pvalue', fontsize=title_fs, ha='left', color='#222222')

go_xlim = (-10, 227.5)
panels = [(1707.5, 2065, go_terms_bp, go_counts_bp, go_p_bp), (2079, 2436, go_terms_cc, go_counts_cc, go_p_cc), (2451, 2811, go_terms_mf, go_counts_mf, go_p_mf)]
for i, (y0, y1, terms, counts, pv) in enumerate(panels):
    ax = axpx(1161, y0, 1562, y1)
    bars(ax, terms, counts, pv, 4.83, go_xlim)
    style_gg(ax, (21.4, 21), [0, 50, 100, 150, 200])
    if i < 2:
        ax.tick_params(axis='x', length=0, labelbottom=False)
    st = axpx(1562, y0, 1605, y1)
    st.set_facecolor('#D9D9D9'); st.set_xticks([]); st.set_yticks([])
    for s in st.spines.values():
        s.set_color('#5A5A5A'); s.set_linewidth(2)
    st.text(0.5, 0.5, go_strips[i], rotation=-90, ha='center', va='center', transform=st.transAxes, fontsize=13, color='#444444')
txt(1362, 2870, 'Count', fontsize=21.5, color='#222222')
txt(1363, 1668, 'GO Analysis', fontsize=31, family='Open Sans', color='#222222')
pbar(1645, 2170, 1690, 2386, 4.83, [1, 2, 3, 4],
     ['1\u00d710$^{-14}$', '2\u00d710$^{-14}$', '3\u00d710$^{-14}$', '4\u00d710$^{-14}$'], 14, 2145, 19.5, 1703)

ax = axpx(2744, 1613, 3513, 2808)
bars(ax, kegg_terms, kegg_counts, kegg_p, 4.76, (-8.2, 172))
style_gg(ax, (23, 22), [0, 50, 100, 150])
txt(3129, 2871, 'Count', fontsize=23, color='#222222')
txt(3052, 1582, 'KEGG Analysis', fontsize=31, family='Open Sans', color='#222222')
pbar(3559, 2115, 3606, 2349, 4.76, [1, 2, 3, 4],
     ['1\u00d710$^{-6}$', '2\u00d710$^{-6}$', '3\u00d710$^{-6}$', '4\u00d710$^{-6}$'], 14.5, 2089, 21, 3620)

# red highlight boxes
for x0, y0, x1, y1 in [(515.5, 1748, 1151.5, 1783), (890, 1783, 1151.5, 1818), (599, 2025, 1151.5, 2061),
                       (2501, 1981, 2734.5, 2026), (2334, 2694, 2734.5, 2739)]:
    fig.add_artist(Rectangle((x0 / W, 1 - y1 / H), (x1 - x0) / W, (y1 - y0) / H, transform=fig.transFigure,
                             fc='none', ec='#F0494F', lw=2.2))

fig.savefig('out.png', dpi=100, facecolor='white')
